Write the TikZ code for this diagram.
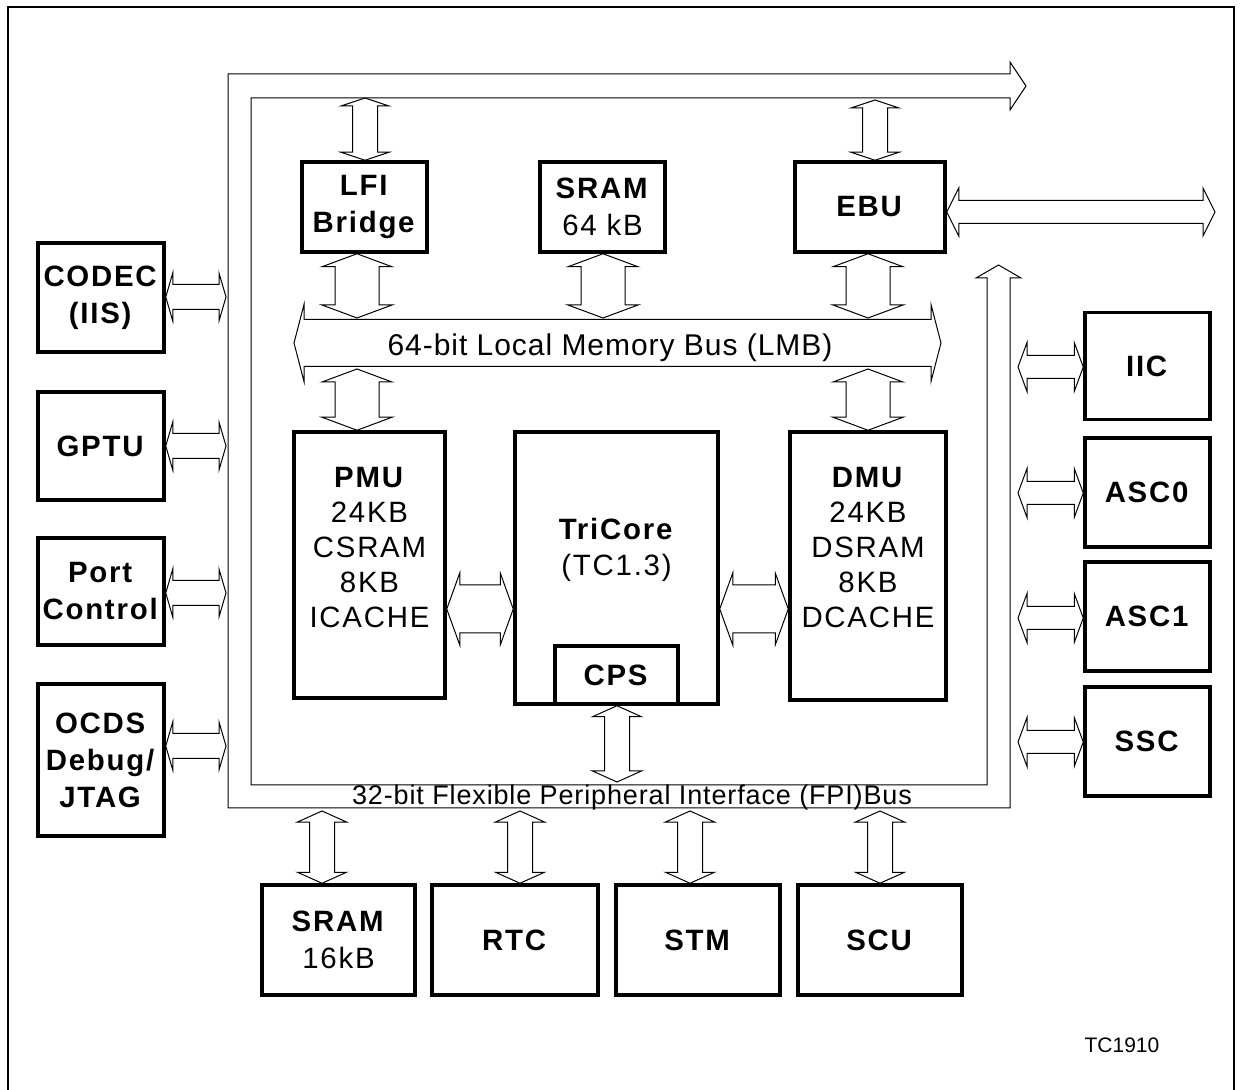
\documentclass[tikz,border=0pt]{standalone}
\usepackage{fontspec}
\setmainfont{Liberation Sans}
\newfontfamily\blkfont[LetterSpace=6]{Liberation Sans}
\newfontfamily\busfont[LetterSpace=3.2]{Liberation Sans}
\usetikzlibrary{calc,positioning}

\tikzset{
  blk/.style={draw, line width=1.75pt, inner sep=0pt, align=center,
              font=\blkfont\fontsize{14.7}{18.5}\selectfont},
  txt/.style={align=center, inner sep=0pt, font=\blkfont\fontsize{14.7}{17.5}\selectfont},
  hollow/.style={draw, line width=0.5pt, fill=white, line join=miter},
  bus/.style={draw, line width=0.5pt, line join=miter}
}

% hollow double arrows: #1 first end, #2 second end, #3 shaft half width, #4 head half width, #5 head length
\newcommand{\vdarrow}[5]{%
  \draw[hollow] (#1) -- ($(#1)+(#4,#5)$) -- ($(#1)+(#3,#5)$) -- ($(#2)+(#3,-#5)$)
    -- ($(#2)+(#4,-#5)$) -- (#2) -- ($(#2)+(-#4,-#5)$) -- ($(#2)+(-#3,-#5)$)
    -- ($(#1)+(-#3,#5)$) -- ($(#1)+(-#4,#5)$) -- cycle;}
\newcommand{\hdarrow}[5]{%
  \draw[hollow] (#1) -- ($(#1)+(#5,-#4)$) -- ($(#1)+(#5,-#3)$) -- ($(#2)+(-#5,-#3)$)
    -- ($(#2)+(-#5,-#4)$) -- (#2) -- ($(#2)+(-#5,#4)$) -- ($(#2)+(-#5,#3)$)
    -- ($(#1)+(#5,#3)$) -- ($(#1)+(#5,#4)$) -- cycle;}

\begin{document}
\begin{tikzpicture}[x=0.5pt, y=-0.5pt]
  \useasboundingbox (0,0) rectangle (1243,1090);

  % frame
  \draw[line width=1.2pt] (8,1090) -- (8,7) -- (1234,7) -- (1234,1090);

  % FPI bus
  \draw[bus] (1010,278) -- (1010,808) -- (228,808) -- (228,74) -- (1010,74)
    -- (1010,62) -- (1026,86) -- (1010,110) -- (1010,98) -- (251,98)
    -- (251,785) -- (987,785) -- (987,278) -- (976,278) -- (998.5,265)
    -- (1021,278) -- cycle;
  \node[font=\busfont\fontsize{13.5}{16}\selectfont, inner sep=0pt]
    (fpitxt) at (632,798) {32-bit Flexible Peripheral Interface (FPI)Bus};

  % bus taps
  \coordinate (t1) at (365,98);
  \coordinate (t2) at (875,100);
  \coordinate (m1) at (357,318);
  \coordinate (m2) at (603,318);
  \coordinate (m3) at (868,318);
  \coordinate (m4) at (357,369);
  \coordinate (m5) at (868,369);
  \coordinate (c1) at (617,782);
  \coordinate (b1) at (322,811);
  \coordinate (b2) at (520,811);
  \coordinate (b3) at (690,811);
  \coordinate (b4) at (880,811);
  \coordinate (l1) at (226,297);
  \coordinate (l2) at (226,446);
  \coordinate (l3) at (226,593);
  \coordinate (l4) at (226,746);
  \coordinate (r1) at (1018,367);
  \coordinate (r2) at (1018,493);
  \coordinate (r3) at (1018,618);
  \coordinate (r4) at (1018,742);
  \coordinate (lmbL) at (294,343);
  \coordinate (lmbR) at (941,343);
  \coordinate (ext) at (1215,212);

  % LMB
  \hdarrow{lmbL}{lmbR}{23.5}{38.5}{10}
  \node[font=\busfont\fontsize{15}{17}\selectfont, inner sep=0pt]
    (lmbtxt) at (610,348) {64-bit Local Memory Bus (LMB)};

  % core blocks
  \node[blk, minimum width=62.5pt, minimum height=45pt] (lfi) at (364.5,207) {\textbf{LFI}\\\textbf{Bridge}};
  \node[blk, minimum width=62.5pt, minimum height=45pt] (sram1) at (602.5,207) {\textbf{SRAM}\\64 kB};
  \node[blk, minimum width=75pt, minimum height=45pt] (ebu) at (870,207) {\textbf{EBU}};
  \node[blk, minimum width=75.5pt, minimum height=133pt] (pmu) at (369.5,565) {};
  \node[txt] (pmutxt) at (369.5,548) {\textbf{PMU}\\24KB\\CSRAM\\8KB\\ICACHE};
  \node[blk, minimum width=101.5pt, minimum height=136pt] (tricore) at (616.5,568) {};
  \node[txt, font=\blkfont\fontsize{14.7}{18}\selectfont] (tctxt) at (616.5,550) {\textbf{TriCore}\\(TC1.3)};
  \node[blk, minimum width=61.5pt, minimum height=29pt, anchor=south] (cps) at (tricore.south) {\textbf{CPS}};
  \node[blk, minimum width=78pt, minimum height=134pt] (dmu) at (868,566) {};
  \node[txt] (dmutxt) at (868,548) {\textbf{DMU}\\24KB\\DSRAM\\8KB\\DCACHE};

  % left peripherals
  \node[blk, minimum width=63pt, minimum height=54.5pt] (codec) at (101,297.5) {\textbf{CODEC}\\\textbf{(IIS)}};
  \node[blk, minimum width=63pt, minimum height=54pt] (gptu) at (101,446) {\textbf{GPTU}};
  \node[blk, minimum width=63pt, minimum height=53.5pt] (port) at (101,591.5) {\textbf{Port}\\\textbf{Control}};
  \node[blk, minimum width=63pt, minimum height=76pt] (ocds) at (101,760) {\textbf{OCDS}\\\textbf{Debug/}\\\textbf{JTAG}};

  % right peripherals
  \node[blk, minimum width=62.5pt, minimum height=53.5pt] (iic) at (1147.5,366) {\textbf{IIC}};
  \node[blk, minimum width=62.5pt, minimum height=54.5pt] (asc0) at (1147.5,492.5) {\textbf{ASC0}};
  \node[blk, minimum width=62.5pt, minimum height=54.5pt] (asc1) at (1147.5,616.5) {\textbf{ASC1}};
  \node[blk, minimum width=62.5pt, minimum height=54.5pt] (ssc) at (1147.5,741.5) {\textbf{SSC}};

  % bottom peripherals
  \node[blk, minimum width=76.5pt, minimum height=55pt] (sram2) at (338.5,940) {\textbf{SRAM}\\16kB};
  \node[blk, minimum width=83pt, minimum height=55pt] (rtc) at (515,940) {\textbf{RTC}};
  \node[blk, minimum width=82pt, minimum height=55pt] (stm) at (698,940) {\textbf{STM}};
  \node[blk, minimum width=82pt, minimum height=55pt] (scu) at (880,940) {\textbf{SCU}};

  \node[font=\fontsize{10.5}{12}\selectfont, inner sep=0pt] (fig) at (1122,1045) {TC1910};

  % connections
  \vdarrow{t1}{t1 |- lfi.north}{12.5}{24}{8}
  \vdarrow{t2}{t2 |- ebu.north}{12.5}{24}{8}
  \vdarrow{m1 |- lfi.south}{m1}{22}{35}{13}
  \vdarrow{m2 |- sram1.south}{m2}{22}{35}{13}
  \vdarrow{m3 |- ebu.south}{m3}{22}{35}{13}
  \vdarrow{m4}{m4 |- pmu.north}{22}{35}{13}
  \vdarrow{m5}{m5 |- dmu.north}{22}{35}{13}
  \hdarrow{pmu.east |- 0,609}{tricore.west |- 0,609}{24}{36}{13}
  \hdarrow{tricore.east |- 0,609}{dmu.west |- 0,609}{24}{36}{13}
  \vdarrow{c1 |- cps.south}{c1}{12.5}{24.5}{11}
  \foreach \tap/\blkname in {b1/sram2, b2/rtc, b3/stm, b4/scu}
    \vdarrow{\tap}{\tap |- \blkname.north}{12.5}{24.5}{11};
  \foreach \tap/\blkname in {l1/codec, l2/gptu, l3/port, l4/ocds}
    \hdarrow{\blkname.east |- \tap}{\tap}{12.5}{24}{7};
  \foreach \tap/\blkname in {r1/iic, r2/asc0, r3/asc1, r4/ssc}
    \hdarrow{\tap}{\blkname.west |- \tap}{11.5}{24.5}{9};
  \hdarrow{ebu.east |- ext}{ext}{11.5}{24}{12}
\end{tikzpicture}
\end{document}
